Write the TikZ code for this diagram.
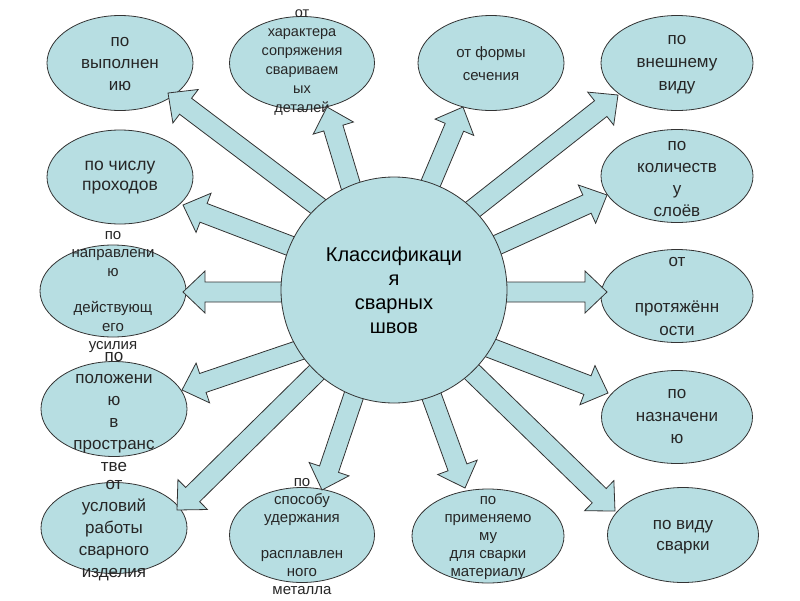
\documentclass[tikz,border=0pt]{standalone}
\usepackage{fontspec}
\setmainfont{Liberation Sans}
\usetikzlibrary{calc,shapes.geometric}
\definecolor{fillblue}{HTML}{B7DEE2}
\definecolor{edge}{HTML}{333333}
\tikzset{
  ell/.style={ellipse, draw=edge, fill=fillblue, line width=0.8pt, inner sep=0pt},
  txt/.style={align=center, inner sep=0pt, text=black!85},
  arr/.style={draw=edge, fill=fillblue, line width=0.8pt, line join=miter},
  hub/.style={circle, draw=edge, fill=fillblue, line width=0.8pt, inner sep=0pt, minimum size=226pt, align=center}
}
\newcommand\fs[2]{\fontsize{#1}{#2}\selectfont}
\newcommand\blockarr[2]{%
  \coordinate (hb) at ($(#2)!22pt!(#1)$);
  \coordinate (bs) at ($(#1)!-25pt!(#2)$);
  \draw[arr] ($(bs)!10pt!90:(#2)$) -- ($(hb)!10pt!90:(#2)$) -- ($(hb)!21pt!90:(#2)$) -- (#2)
     -- ($(hb)!21pt!-90:(#2)$) -- ($(hb)!10pt!-90:(#2)$) -- ($(bs)!10pt!-90:(#2)$) -- cycle;}
\begin{document}
\begin{tikzpicture}[x=1pt,y=-1pt]
\fill[white] (0,0) rectangle (800,600);
\useasboundingbox (0,0) rectangle (800,600);
% ellipses
\node[ell, minimum width=146pt, minimum height=95pt] (e1) at (120,63) {};
\node[ell, minimum width=145pt, minimum height=93pt] (e2) at (302,63) {};
\node[ell, minimum width=146pt, minimum height=95pt] (e3) at (491,63) {};
\node[ell, minimum width=152pt, minimum height=95pt] (e4) at (677,63) {};
\node[ell, minimum width=146pt, minimum height=94pt] (e5) at (120,177) {};
\node[ell, minimum width=152pt, minimum height=93pt] (e6) at (677,176) {};
\node[ell, minimum width=146pt, minimum height=92pt] (e7) at (113,291) {};
\node[ell, minimum width=152pt, minimum height=93pt] (e8) at (677,296) {};
\node[ell, minimum width=146pt, minimum height=95pt] (e9) at (114,409) {};
\node[ell, minimum width=151pt, minimum height=93pt] (e10) at (677,417) {};
\node[ell, minimum width=146pt, minimum height=91pt] (e11) at (114,528) {};
\node[ell, minimum width=145pt, minimum height=95pt] (e12) at (302,535) {};
\node[ell, minimum width=152pt, minimum height=94pt] (e13) at (488,536) {};
\node[ell, minimum width=151pt, minimum height=95pt] (e14) at (683,535) {};
% texts
\node[txt, font=\fs{17}{22}] (t1) at (120,64) {по\\выполнен\\ию};
\node[txt, font=\fs{14.5}{19}] (t2) at (302,63) {от\\характера\\сопряжения\\свариваем\\ых\\деталей};
\node[txt, font=\fs{15}{23}] (t3) at (491,64) {от формы\\сечения};
\node[txt, font=\fs{17}{23}] (t4) at (677,65) {по\\внешнему\\виду};
\node[txt, font=\fs{17.5}{20}] (t5) at (120,178) {по числу\\проходов};
\node[txt, font=\fs{17}{22}] (t6) at (677,179) {по\\количеств\\у\\слоёв};
\node[txt, font=\fs{15}{18.3}] (t7) at (113,292) {по\\направлени\\ю\\\mbox{}\\действующ\\его\\усилия};
\node[txt, font=\fs{17}{23}] (t8) at (677,297) {от\\\mbox{}\\протяжённ\\ости};
\node[txt, font=\fs{17}{22}] (t9) at (114,412) {по\\положени\\ю\\в\\пространс\\тве};
\node[txt, font=\fs{17}{22.5}] (t10) at (677,417) {по\\назначени\\ю};
\node[txt, font=\fs{17}{22}] (t11) at (114,531) {от\\условий\\работы\\сварного\\изделия};
\node[txt, font=\fs{15}{18}] (t12) at (302,537) {по\\способу\\удержания\\\mbox{}\\расплавлен\\ного\\металла};
\node[txt, font=\fs{15}{18}] (t13) at (488,538) {по\\применяемо\\му\\для сварки\\материалу};
\node[txt, font=\fs{17}{21}] (t14) at (683,537) {по виду\\сварки};
% arrow coordinates
\coordinate (s1) at (319,207);  \coordinate (p1) at (168,93);
\coordinate (s2) at (352,190);  \coordinate (p2) at (327,107);
\coordinate (s3) at (430,185);  \coordinate (p3) at (463,107);
\coordinate (s4) at (472,210);  \coordinate (p4) at (618,95);
\coordinate (s5) at (497,245);  \coordinate (p5) at (607,195);
\coordinate (s6) at (507,292);  \coordinate (p6) at (607,292);
\coordinate (s7) at (488,347);  \coordinate (p7) at (608,393);
\coordinate (s8) at (472,372);  \coordinate (p8) at (615,511);
\coordinate (s9) at (430,392);  \coordinate (p9) at (465,488);
\coordinate (s10) at (355,392); \coordinate (p10) at (322,490);
\coordinate (s11) at (317,372); \coordinate (p11) at (177,510);
\coordinate (s12) at (300,350); \coordinate (p12) at (182,390);
\coordinate (s13) at (285,292); \coordinate (p13) at (183,292);
\coordinate (s14) at (293,247); \coordinate (p14) at (183,205);
\foreach \i in {1,...,14}{\blockarr{s\i}{p\i}}
% hub
\node[hub, font=\fs{20}{24}] (c) at (394,290) {Классификаци\\я\\сварных\\швов};
\end{tikzpicture}
\end{document}
